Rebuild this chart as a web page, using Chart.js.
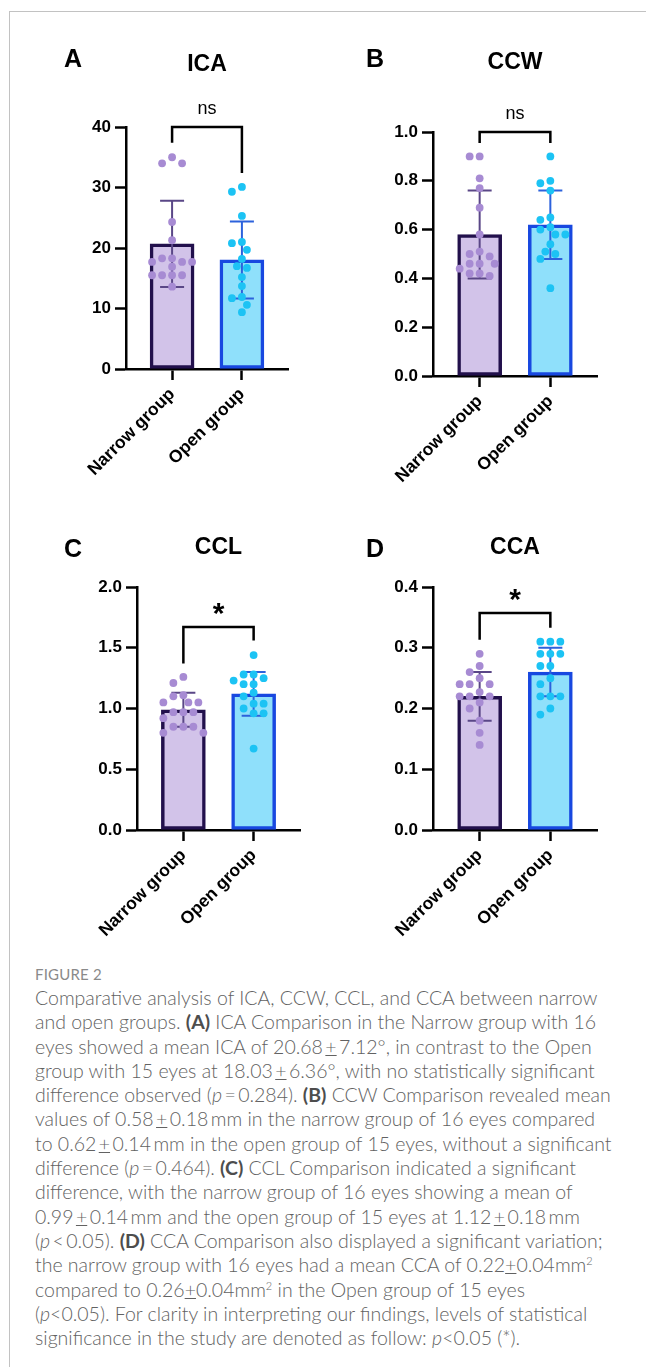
<!DOCTYPE html>
<html>
<head>
<meta charset="utf-8">
<script src="https://cdn.jsdelivr.net/npm/chart.js@4.4.0/dist/chart.umd.min.js"></script>
<style>
  html, body { margin: 0; padding: 0; background: #fff; }
  body { width: 646px; height: 1367px; position: relative; overflow: hidden; }
  .frame-l { position: absolute; left: 9px; top: 11px; width: 1px; bottom: 0; background: #c2c2c2; }
  .frame-t { position: absolute; left: 9px; top: 11px; right: 0; height: 1px; background: #c2c2c2; }
  canvas { position: absolute; }
  .letter { position: absolute; font: bold 25px 'Liberation Sans', Arial, sans-serif; color: #000;
            transform: translate(-50%, -50%); line-height: 1; }
  #figlabel { position: absolute; left: 35px; top: 965px; font: 15px 'Lato', 'Open Sans', sans-serif;
              color: #8a8a8a; letter-spacing: 0.2px; }
  #caption { position: absolute; left: 35px; top: 986px; font: 300 19.5px 'Lato', 'Open Sans', sans-serif;
             color: #626262; line-height: 24.3px; white-space: nowrap; }
  #caption b { font-weight: 700; color: #4d4d4d; }
  #caption sup { font-size: 11px; line-height: 0; }
</style>
</head>
<body>
<div class="frame-l"></div>
<div class="frame-t"></div>

<canvas id="cA" width="323" height="500" style="left:0;top:0;width:323px;height:500px"></canvas>
<canvas id="cB" width="323" height="500" style="left:323px;top:0;width:323px;height:500px"></canvas>
<canvas id="cC" width="323" height="460" style="left:0;top:500px;width:323px;height:460px"></canvas>
<canvas id="cD" width="323" height="460" style="left:323px;top:500px;width:323px;height:460px"></canvas>

<div class="letter" style="left:73px;top:58px">A</div>
<div class="letter" style="left:375px;top:58px">B</div>
<div class="letter" style="left:73px;top:548px">C</div>
<div class="letter" style="left:375px;top:548px">D</div>

<div id="figlabel">FIGURE 2</div>
<div id="caption">
Comparative analysis of ICA, CCW, CCL, and CCA between narrow<br>
and open groups. <b>(A)</b> ICA Comparison in the Narrow group with 16<br>
eyes showed a mean ICA of 20.68&#8201;<u>+</u>&#8201;7.12°, in contrast to the Open<br>
group with 15 eyes at 18.03&#8201;<u>+</u>&#8201;6.36°, with no statistically significant<br>
difference observed (<i>p</i>&#8201;=&#8201;0.284). <b>(B)</b> CCW Comparison revealed mean<br>
values of 0.58&#8201;<u>+</u>&#8201;0.18&#8201;mm in the narrow group of 16 eyes compared<br>
to 0.62&#8201;<u>+</u>&#8201;0.14&#8201;mm in the open group of 15 eyes, without a significant<br>
difference (<i>p</i>&#8201;=&#8201;0.464). <b>(C)</b> CCL Comparison indicated a significant<br>
difference, with the narrow group of 16 eyes showing a mean of<br>
0.99&#8201;<u>+</u>&#8201;0.14&#8201;mm and the open group of 15 eyes at 1.12&#8201;<u>+</u>&#8201;0.18&#8201;mm<br>
(<i>p</i>&#8201;&lt;&#8201;0.05). <b>(D)</b> CCA Comparison also displayed a significant variation;<br>
the narrow group with 16 eyes had a mean CCA of 0.22<u>+</u>0.04mm<sup>2</sup><br>
compared to 0.26<u>+</u>0.04mm<sup>2</sup> in the Open group of 15 eyes<br>
(<i>p</i>&lt;0.05). For clarity in interpreting our findings, levels of statistical<br>
significance in the study are denoted as follow: <i>p</i>&lt;0.05 (*).
</div>

<script>
// ---- data ----
const groups = ['Narrow group', 'Open group'];

// ICA (degrees)
const icaNarrow = [35, 34, 34, 24.3, 21.3, 18.3, 18.3, 17.7, 17.7, 17.7, 16.9, 15.5, 15.5, 15.5, 15.5, 13.6];
const icaOpen   = [30.1, 29.3, 25.3, 21.0, 20.8, 19.7, 18.2, 17.0, 16.7, 15.2, 13.7, 11.9, 11.7, 10.6, 9.4];
const icaMean   = [20.68, 18.03];
const icaSD     = [7.12, 6.36];
const icaTicks  = [0, 10, 20, 30, 40];

// CCW (mm)
const ccwNarrow = [0.90, 0.90, 0.81, 0.77, 0.69, 0.58, 0.51, 0.50, 0.49, 0.46, 0.46, 0.46, 0.44, 0.42, 0.42, 0.41];
const ccwOpen   = [0.90, 0.80, 0.79, 0.76, 0.65, 0.64, 0.61, 0.60, 0.58, 0.58, 0.54, 0.51, 0.50, 0.48, 0.36];
const ccwMean   = [0.58, 0.62];
const ccwSD     = [0.18, 0.14];
const ccwTicks  = [0, 0.2, 0.4, 0.6, 0.8, 1.0];

// CCL (mm)
const cclNarrow = [1.26, 1.21, 1.11, 1.10, 1.05, 1.05, 1.05, 0.97, 0.97, 0.97, 0.92, 0.85, 0.85, 0.85, 0.80, 0.80];
const cclOpen   = [1.44, 1.28, 1.28, 1.25, 1.23, 1.20, 1.20, 1.13, 1.10, 1.04, 1.04, 1.00, 0.96, 0.96, 0.67];
const cclMean   = [0.99, 1.12];
const cclSD     = [0.14, 0.18];
const cclTicks  = [0, 0.5, 1.0, 1.5, 2.0];

// CCA (mm²)
const ccaNarrow = [0.29, 0.27, 0.26, 0.25, 0.24, 0.24, 0.24, 0.227, 0.22, 0.22, 0.22, 0.21, 0.20, 0.18, 0.16, 0.14];
const ccaOpen   = [0.31, 0.31, 0.31, 0.29, 0.29, 0.29, 0.27, 0.27, 0.25, 0.24, 0.22, 0.22, 0.22, 0.20, 0.19];
const ccaMean   = [0.22, 0.26];
const ccaSD     = [0.04, 0.04];
const ccaTicks  = [0, 0.1, 0.2, 0.3, 0.4];

// ---- styling ----
const FONT = "'Liberation Sans', Arial, Helvetica, sans-serif";
const barFill   = ['#d2c3e9', '#8fe0fb'];
const barEdge   = ['#22104c', '#1848e0'];
const dotColor  = ['#a78bd3', '#1cc3f4'];
const errColor  = ['#5a4787', '#2c62dc'];

// panels: chart area given in canvas pixels
const panels = [
  { id: 'cA', title: 'ICA', titleY: 65, narrow: icaNarrow, open: icaOpen, mean: icaMean, sd: icaSD,
    ticks: icaTicks, dec: 0, area: { l: 126, r: 288, t: 127, b: 369 }, w: 323, h: 500,
    sig: 'ns', bracket: { top: 40, left: 37.4, right: 32.4 } },
  { id: 'cB', title: 'CCW', titleY: 63, narrow: ccwNarrow, open: ccwOpen, mean: ccwMean, sd: ccwSD,
    ticks: ccwTicks, dec: 1, area: { l: 110, r: 274, t: 132, b: 376 }, w: 323, h: 500,
    sig: 'ns', bracket: { top: 1.0, left: 0.955, right: 0.955 } },
  { id: 'cC', title: 'CCL', titleY: 48, narrow: cclNarrow, open: cclOpen, mean: cclMean, sd: cclSD,
    ticks: cclTicks, dec: 1, area: { l: 137, r: 300, t: 87, b: 330 }, w: 323, h: 460,
    sig: '*', bracket: { top: 1.67, left: 1.37, right: 1.56 } },
  { id: 'cD', title: 'CCA', titleY: 48, narrow: ccaNarrow, open: ccaOpen, mean: ccaMean, sd: ccaSD,
    ticks: ccaTicks, dec: 1, area: { l: 110, r: 274, t: 87, b: 330 }, w: 323, h: 460,
    sig: '*', bracket: { top: 0.357, left: 0.313, right: 0.333 } }
];

// error bars, drawn right after the bar dataset so the dots sit on top
const errorBarPlugin = {
  id: 'errorBars',
  afterDatasetDraw(chart, args) {
    if (args.index !== 0) return;
    const p = chart.options.plugins.errorBars;
    const xs = chart.scales.x, ys = chart.scales.y, ctx = chart.ctx;
    ctx.save();
    ctx.lineWidth = 2;
    p.mean.forEach((m, i) => {
      const x = xs.getPixelForValue(i);
      const yTop = ys.getPixelForValue(m + p.sd[i]);
      const yBot = ys.getPixelForValue(m - p.sd[i]);
      ctx.strokeStyle = errColor[i];
      ctx.beginPath();
      ctx.moveTo(x, yTop); ctx.lineTo(x, yBot);
      ctx.moveTo(x - 12, yTop); ctx.lineTo(x + 12, yTop);
      ctx.moveTo(x - 12, yBot); ctx.lineTo(x + 12, yBot);
      ctx.stroke();
    });
    ctx.restore();
  }
};

// title, significance bracket and its label
const annotatePlugin = {
  id: 'annotate',
  afterDraw(chart) {
    const p = chart.options.plugins.annotate;
    const xs = chart.scales.x, ys = chart.scales.y, ctx = chart.ctx;
    const a = chart.chartArea;
    ctx.save();
    ctx.fillStyle = '#000';
    ctx.textAlign = 'center';
    ctx.textBaseline = 'middle';
    ctx.font = 'bold 23px ' + FONT;
    ctx.fillText(p.title, (a.left + a.right) / 2, p.titleY);

    const x0 = xs.getPixelForValue(0), x1 = xs.getPixelForValue(1);
    const yt = ys.getPixelForValue(p.bracket.top);
    ctx.strokeStyle = '#000';
    ctx.lineWidth = 2.5;
    ctx.lineJoin = 'miter';
    ctx.beginPath();
    ctx.moveTo(x0, ys.getPixelForValue(p.bracket.left));
    ctx.lineTo(x0, yt);
    ctx.lineTo(x1, yt);
    ctx.lineTo(x1, ys.getPixelForValue(p.bracket.right));
    ctx.stroke();
    if (p.sig === '*') {
      ctx.font = 'bold 30px ' + FONT;
      ctx.fillText('*', (x0 + x1) / 2, yt - 12);
    } else {
      ctx.font = '18px ' + FONT;
      ctx.fillText(p.sig, (x0 + x1) / 2, yt - 18);
    }
    ctx.restore();
  }
};

// place points of one group side by side where they would overlap
function swarm(chart, values, group) {
  const xs = chart.scales.x, ys = chart.scales.y;
  const pxPerUnit = xs.getPixelForValue(1) - xs.getPixelForValue(0);
  const half = 5, minDist = 8.4;
  const placed = [];
  const out = new Array(values.length);
  const order = values.map((v, i) => i).sort((a, b) => values[b] - values[a]);
  order.forEach(i => {
    const py = ys.getPixelForValue(values[i]);
    for (let k = 0; k < 60; k++) {
      const off = (k === 0 ? 0 : (k % 2 ? -1 : 1) * Math.ceil(k / 2)) * half;
      if (placed.every(q => Math.hypot(q.x - off, q.y - py) >= minDist)) {
        placed.push({ x: off, y: py });
        out[i] = { x: group + off / pxPerUnit, y: values[i] };
        break;
      }
    }
  });
  return out;
}

panels.forEach(P => {
  const A = P.area;
  const xMin = -0.66, xMax = 1.66;
  const chart = new Chart(document.getElementById(P.id), {
    data: {
      datasets: [
        {
          type: 'bar', order: 2,
          data: P.mean.map((m, i) => ({ x: i, y: m })),
          backgroundColor: barFill, borderColor: barEdge,
          borderWidth: 3.5, borderSkipped: false, barThickness: 44
        },
        {
          type: 'scatter', order: 0,
          data: P.narrow.map(v => ({ x: 0, y: v })),
          pointRadius: 3.9, pointBackgroundColor: dotColor[0], pointBorderWidth: 0
        },
        {
          type: 'scatter', order: 0,
          data: P.open.map(v => ({ x: 1, y: v })),
          pointRadius: 3.9, pointBackgroundColor: dotColor[1], pointBorderWidth: 0
        }
      ]
    },
    options: {
      responsive: false, animation: false, events: [],
      layout: { padding: { left: 0, top: A.t, right: P.w - A.r, bottom: 0 } },
      plugins: {
        legend: { display: false }, tooltip: { enabled: false },
        errorBars: { mean: P.mean, sd: P.sd },
        annotate: { title: P.title, titleY: P.titleY, sig: P.sig, bracket: P.bracket }
      },
      scales: {
        x: {
          type: 'linear', min: xMin, max: xMax, offset: false,
          afterBuildTicks: s => { s.ticks = groups.map((g, i) => ({ value: i })); },
          afterFit: s => { s.height = P.h - A.b; s.paddingLeft = 0; s.paddingRight = 0; },
          ticks: {
            callback: v => groups[v], autoSkip: false, maxRotation: 45, minRotation: 45,
            color: '#000', font: { family: FONT, size: 17.5, weight: 'bold' }, padding: 4
          },
          grid: { offset: false, drawOnChartArea: false, drawTicks: true, tickLength: 11, tickWidth: 2.5, tickColor: '#000' },
          border: { display: true, color: '#000', width: 2.5 }
        },
        y: {
          type: 'linear', min: P.ticks[0], max: P.ticks[P.ticks.length - 1],
          afterBuildTicks: s => { s.ticks = P.ticks.map(v => ({ value: v })); },
          afterFit: s => { s.width = A.l; s.paddingTop = 0; s.paddingBottom = 0; },
          ticks: {
            callback: v => Number(v).toFixed(P.dec),
            color: '#000', font: { family: FONT, size: 17, weight: 'bold' }, padding: 4
          },
          grid: { drawOnChartArea: false, drawTicks: true, tickLength: 11, tickWidth: 2.5, tickColor: '#000' },
          border: { display: true, color: '#000', width: 2.5 }
        }
      }
    },
    plugins: [errorBarPlugin, annotatePlugin]
  });
  chart.data.datasets[1].data = swarm(chart, P.narrow, 0);
  chart.data.datasets[2].data = swarm(chart, P.open, 1);
  chart.update('none');
});
</script>
</body>
</html>
